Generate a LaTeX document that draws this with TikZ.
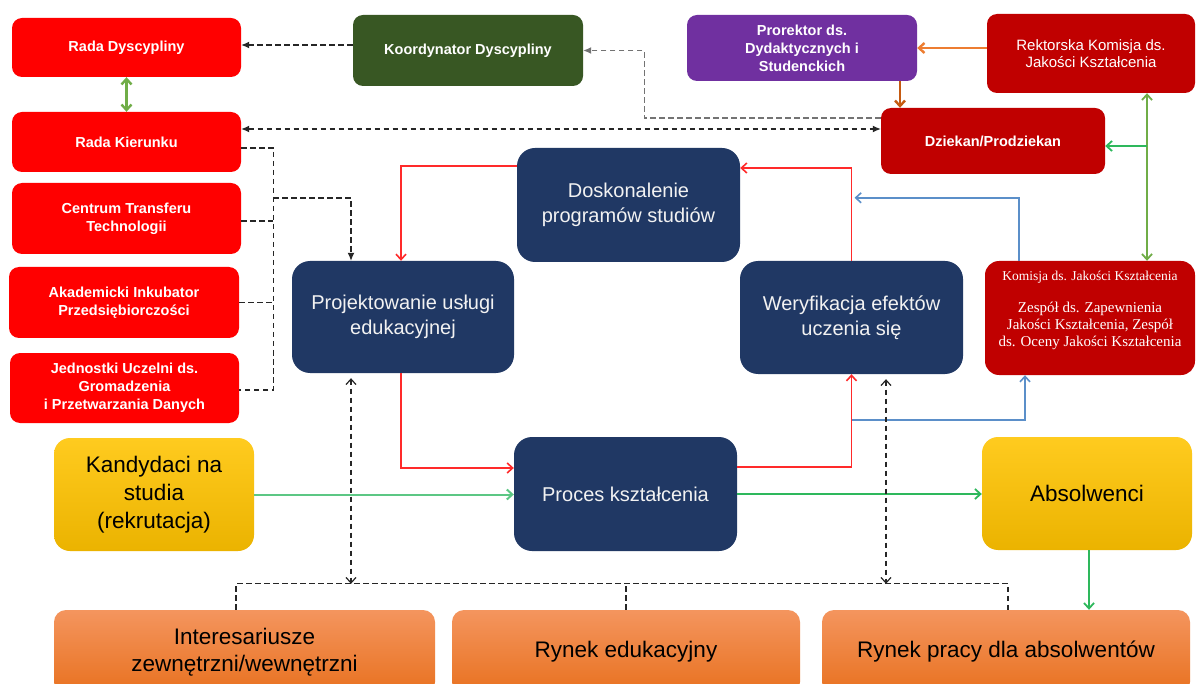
\documentclass[tikz,border=0pt]{standalone}
\usepackage{fontspec}
\setmainfont{Liberation Sans}
\newfontfamily\komfont{Liberation Serif}
\usetikzlibrary{arrows.meta,calc}
\definecolor{bred}{HTML}{FF0000}
\definecolor{dred}{HTML}{C00000}
\definecolor{dgreen}{HTML}{385723}
\definecolor{purp}{HTML}{7030A0}
\definecolor{navy}{HTML}{203864}
\definecolor{yeltop}{HTML}{FFCB1F}
\definecolor{yelbot}{HTML}{EBB300}
\definecolor{ortop}{HTML}{F4955E}
\definecolor{orbot}{HTML}{E8711F}
\definecolor{lgreen}{HTML}{70AD47}
\definecolor{mgreen}{HTML}{2EB85C}
\definecolor{pgreen}{HTML}{5CC784}
\definecolor{lblue}{HTML}{5B8FC9}
\definecolor{orng}{HTML}{ED7D31}
\definecolor{brwn}{HTML}{C55A11}
\definecolor{linered}{HTML}{FF2A2A}
\begin{document}
\begin{tikzpicture}[x=1pt,y=-1pt,
  sz/.style 2 args={minimum width=#1pt, minimum height=#2pt},
  box/.style={rectangle, rounded corners=10pt, align=center, inner sep=2pt, text=white,
    font=\bfseries\fontsize{14.5}{18}\selectfont},
  proc/.style={rectangle, rounded corners=18pt, align=center, inner sep=2pt, fill=navy,
    text=white!95!black, font=\fontsize{20}{25}\selectfont},
  yb/.style={rectangle, rounded corners=16pt, align=center, inner sep=2pt,
    top color=yeltop, bottom color=yelbot, text=black, font=\fontsize{22.5}{28}\selectfont},
  ob/.style={rectangle, rounded corners=12pt, align=center, inner sep=2pt,
    top color=ortop, bottom color=orbot, text=black, font=\fontsize{22.5}{27}\selectfont},
  barb/.style={-{Straight Barb[length=5.5pt,width=10pt]}},
  dbarb/.style={{Straight Barb[length=5.5pt,width=10pt]}-{Straight Barb[length=5.5pt,width=10pt]}},
  dsh/.style={draw=black!85, line width=1.2pt, dash pattern=on 5.5pt off 3.5pt},
  fill tip/.style={-{Latex[length=8pt,width=7pt]}},
  redline/.style={draw=linered, line width=1.6pt, barb},
  blueline/.style={draw=lblue, line width=1.6pt, barb}
]
\useasboundingbox (0,0) rectangle (1196,684);
\clip (0,0) rectangle (1196,684);
\fill[white] (0,0) rectangle (1196,684);

% top / left boxes
\node[box, fill=bred, sz={229}{59}] (rd) at (126.5,47.5) {Rada Dyscypliny};
\node[box, fill=dgreen, sz={230}{71}] (kd) at (468,50.5) {Koordynator Dyscypliny};
\node[box, fill=purp, sz={230}{66}] (pr) at (802,48) {Prorektor ds.\\Dydaktycznych i\\Studenckich};
\node[box, fill=dred, sz={208}{79}, font=\fontsize{15}{17}\selectfont] (rk) at (1091,53.5) {Rektorska Komisja ds.\\Jakości Kształcenia};
\node[box, fill=dred, sz={224}{66}] (dz) at (993,141) {Dziekan/Prodziekan};
\node[box, fill=bred, sz={229}{60}] (rkier) at (126.5,142) {Rada Kierunku};
\node[box, fill=bred, sz={229}{71}] (ctt) at (126.5,218.5) {Centrum Transferu\\Technologii};
\node[box, fill=bred, sz={230}{71}] (aip) at (124,302.5) {Akademicki Inkubator\\Przedsiębiorczości};
\node[box, fill=bred, sz={229}{70}] (jud) at (124.5,388) {Jednostki Uczelni ds.\\Gromadzenia\\i Przetwarzania Danych};

% process boxes
\node[proc, sz={223}{114}] (dps) at (628.5,205) {Doskonalenie\\programów studiów};
\node[proc, sz={222}{112}] (pue) at (403,317) {Projektowanie usługi\\edukacyjnej};
\node[proc, sz={223}{113}] (weu) at (851.5,317.5) {Weryfikacja efektów\\uczenia się};
\node[proc, sz={223}{114}] (pk) at (625.5,494) {Proces kształcenia};
\node[box, fill=dred, sz={210}{114}, rounded corners=14pt,
  font=\komfont\fontsize{15}{17}\selectfont] (kjk) at (1090,318)
  {{\fontsize{13.5}{17}\selectfont Komisja ds. Jakości Kształcenia}\\[15pt]Zespół ds. Zapewnienia\\Jakości Kształcenia, Zespół\\ds. Oceny Jakości Kształcenia\\[2pt]\mbox{}};

% yellow / orange
\node[yb, sz={200}{113}] (kns) at (154,494.5) {Kandydaci na\\studia\\(rekrutacja)};
\node[yb, sz={210}{113}] (abs) at (1087,493.5) {Absolwenci};
\node[ob, sz={381}{84}] (ie) at (244.5,652) {Interesariusze\\zewnętrzni/wewnętrzni};
\node[ob, sz={348}{84}] (re) at (626,652) {Rynek edukacyjny};
\node[ob, sz={368}{84}] (rp) at (1006,652) {Rynek pracy dla absolwentów};

% ---- connectors: top area
\coordinate (rde) at ([yshift=2.5pt]rd.east);
\draw[dsh, fill tip] (kd.west |- rde) -- (rde);
\draw[draw=lgreen, line width=2.4pt, dbarb] (rd.south) -- (rkier.north);
\coordinate (kdx) at ([xshift=61pt]kd.east);
\draw[dsh, draw=black!55, fill tip] ([yshift=23pt]dz.west) -| (kdx) -- (kd.east);
\draw[dsh, {Latex[length=8pt,width=7pt]}-{Latex[length=8pt,width=7pt]}] ([yshift=13pt]rkier.east) -- ([yshift=12pt]dz.west);
\coordinate (prs) at ([xshift=98pt]pr.south);
\draw[draw=brwn, line width=2.4pt, barb] (prs) -- (prs |- dz.north);
\draw[draw=orng, line width=2.4pt, barb] (rk.west |- pr.east) -- (pr.east);
\coordinate (g1) at ([xshift=56pt]rk.south);
\coordinate (g2) at (g1 |- kjk.north);
\draw[draw=lgreen, line width=1.8pt, dbarb] (g1) -- (g2);
\coordinate (dze) at ([yshift=-5pt]dz.east);
\draw[draw=mgreen, line width=1.8pt, barb] (g1 |- dze) -- (dze);

% ---- left dashed bus
\draw[dsh] ([yshift=-6pt]rkier.east) -- ++(32,0) coordinate (lt) |- ([yshift=-2pt]jud.east);
\coordinate (cte) at ([yshift=-2.5pt]ctt.east);
\draw[dsh] (cte) -- (cte -| lt);
\draw[dsh] (aip.east) -- (aip.east -| lt);
\coordinate (pt1) at ([xshift=-52pt]pue.north);
\draw[dsh, fill tip] ([yshift=-50pt]lt) -| (pt1);

% ---- red cycle
\draw[redline] ([yshift=39pt]dps.west) -| ([xshift=-2pt]pue.north);
\draw[redline] (weu.north) |- ([yshift=37pt]dps.east);
\draw[redline] ([xshift=-2pt]pue.south) |- ([yshift=26pt]pk.west);
\draw[redline] ([yshift=27pt]pk.east) -| (weu.south);

% ---- blue
\coordinate (kjn) at ([xshift=-71pt]kjk.north);
\draw[blueline] (kjn) |- ([xshift=3pt,yshift=63pt]weu.north);
\draw[blueline] ([yshift=-46pt]weu.south) -| ([xshift=-65pt]kjk.south);

% ---- green flow
\draw[draw=pgreen, line width=2pt, barb] (kns.east) -- (kns.east -| pk.west);
\draw[draw=mgreen, line width=1.8pt, barb] (pk.east) -- (pk.east -| abs.west);
\coordinate (ab1) at ([xshift=2pt]abs.south);
\draw[draw=mgreen, line width=1.8pt, barb] (ab1) -- (ab1 |- rp.north);

% ---- bottom dashed bus
\coordinate (bl) at ([xshift=-8.5pt,yshift=26pt]ie.north);
\coordinate (br) at ([xshift=2pt,yshift=26pt]rp.north);
\draw[dsh] (bl |- ie.north) -- (bl) -- (br) -- (br |- rp.north);
\draw[dsh] (re.north) -- (re.north |- bl);
\coordinate (pa) at ([xshift=-52pt,yshift=-5pt]pue.south);
\coordinate (pb) at (pa |- bl);
\draw[dsh, dbarb] (pa) -- (pb);
\coordinate (wa) at ([xshift=34.5pt,yshift=-5pt]weu.south);
\coordinate (wb) at (wa |- bl);
\draw[dsh, dbarb] (wa) -- (wb);
\end{tikzpicture}
\end{document}
